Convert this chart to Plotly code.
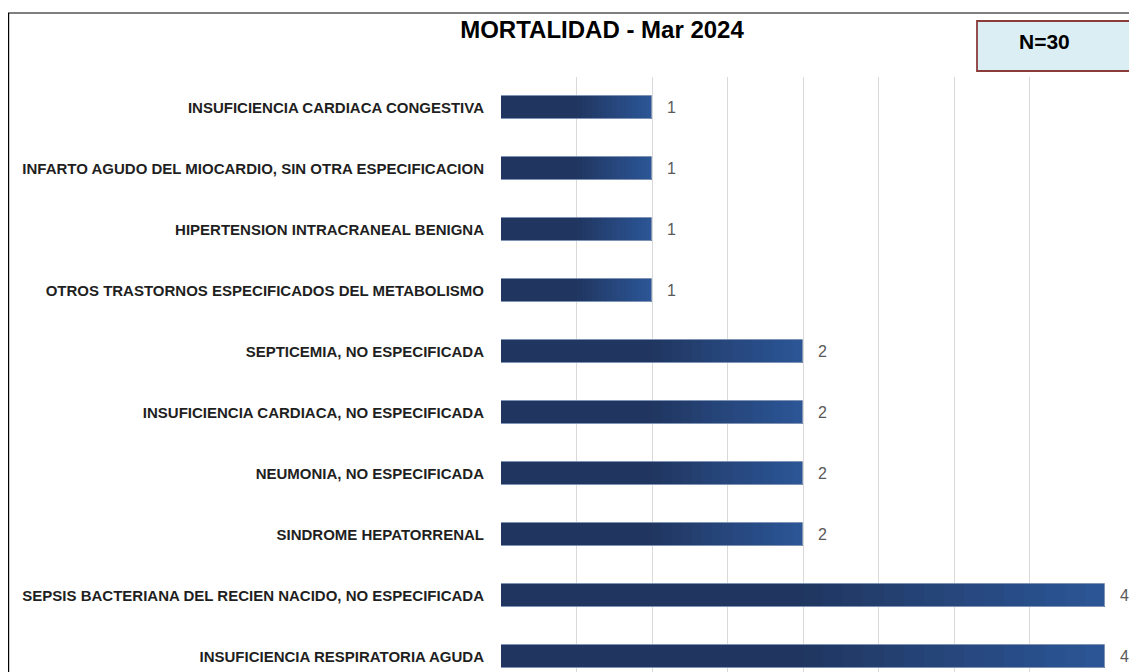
import plotly.graph_objects as go

categories = [
    "INSUFICIENCIA CARDIACA CONGESTIVA",
    "INFARTO AGUDO DEL MIOCARDIO, SIN OTRA ESPECIFICACION",
    "HIPERTENSION INTRACRANEAL BENIGNA",
    "OTROS TRASTORNOS ESPECIFICADOS DEL METABOLISMO",
    "SEPTICEMIA, NO ESPECIFICADA",
    "INSUFICIENCIA CARDIACA, NO ESPECIFICADA",
    "NEUMONIA, NO ESPECIFICADA",
    "SINDROME HEPATORRENAL",
    "SEPSIS BACTERIANA DEL RECIEN NACIDO, NO ESPECIFICADA",
    "INSUFICIENCIA RESPIRATORIA AGUDA",
]
values = [1, 1, 1, 1, 2, 2, 2, 2, 4, 4]
title_text = "MORTALIDAD - Mar 2024"
n_text = "N=30"

# page has an 8px body margin; all pixel targets are in figure coordinates
W, H = 1137, 672
ML, MR, MT, MB = 493, 40, 69, 0
BAND = 61.0
PW = W - ML - MR
PH = H - MT - MB

dark = (32, 54, 96)
light = (44, 86, 152)
K = 30


def grad_color(t):
    if t < 0.5:
        c = dark
    else:
        f = (t - 0.5) / 0.5
        c = tuple(round(dark[i] + (light[i] - dark[i]) * f) for i in range(3))
    return "rgb(%d,%d,%d)" % c


def px_x(p):
    return (p - ML) / PW


def px_y(p):
    return (H - MB - p) / PH


fig = go.Figure()
bar_w = 0.38
for k in range(K):
    t = (k + 0.5) / K
    fig.add_trace(go.Bar(
        y=categories,
        x=[v / K for v in values],
        base=[v * k / K for v in values],
        orientation="h",
        width=bar_w,
        marker=dict(color=grad_color(t), line=dict(width=0)),
        hoverinfo="skip",
        showlegend=False,
    ))

fig.add_trace(go.Bar(
    y=categories,
    x=values,
    base=[0] * len(values),
    orientation="h",
    width=bar_w,
    marker=dict(color="rgba(0,0,0,0)", line=dict(color="#7F93B5", width=1)),
    showlegend=False,
    hovertemplate="%{y}: %{x}<extra></extra>",
))

for c, v in zip(categories, values):
    fig.add_annotation(
        x=v, y=c, xref="x", yref="y", text=str(v), showarrow=False,
        xanchor="center", xshift=19,
        font=dict(family="Liberation Sans, Arial", size=16, color="#595959"),
    )

span = PH / BAND

fig.update_layout(
    width=W, height=H,
    barmode="overlay",
    bargap=0,
    plot_bgcolor="white",
    paper_bgcolor="white",
    margin=dict(l=ML, r=MR, t=MT, b=MB, pad=0),
    xaxis=dict(
        range=[0, 4], dtick=0.5, showgrid=True, gridcolor="#D9D9D9", gridwidth=1,
        showticklabels=False, zeroline=False, showline=False, ticks="",
    ),
    yaxis=dict(
        type="category", categoryorder="array", categoryarray=categories,
        range=[-0.5 + span, -0.5], showgrid=False, zeroline=False,
        showline=False, ticks="outside", ticklen=13, tickcolor="rgba(0,0,0,0)",
        tickfont=dict(family="Liberation Sans, Arial", size=15, color="#1F1F1F", weight="bold"),
    ),
    title=dict(
        text="<b>%s</b>" % title_text, xref="container", yref="container",
        x=594 / W, xanchor="center", y=1 - 22 / H, yanchor="middle",
        font=dict(family="Liberation Sans, Arial", size=24, color="#000000"),
    ),
    shapes=[
        dict(type="rect", xref="paper", yref="paper",
             x0=px_x(0.6), x1=px_x(W + 20),
             y0=-0.2, y1=px_y(5),
             line=dict(color="#000000", width=1.2), fillcolor="rgba(0,0,0,0)", layer="below"),
        dict(type="rect", xref="paper", yref="paper",
             x0=px_x(969), x1=px_x(1122),
             y0=px_y(63), y1=px_y(13),
             line=dict(color="#8C3B3B", width=1.8), fillcolor="#DAEEF3", layer="above"),
    ],
)

fig.add_annotation(
    xref="paper", yref="paper",
    x=px_x(1036), y=px_y(33),
    text="<b>%s</b>" % n_text, showarrow=False, xanchor="center", yanchor="middle",
    font=dict(family="Liberation Sans, Arial", size=21, color="#000000"),
)

fig.write_html("out.html")
